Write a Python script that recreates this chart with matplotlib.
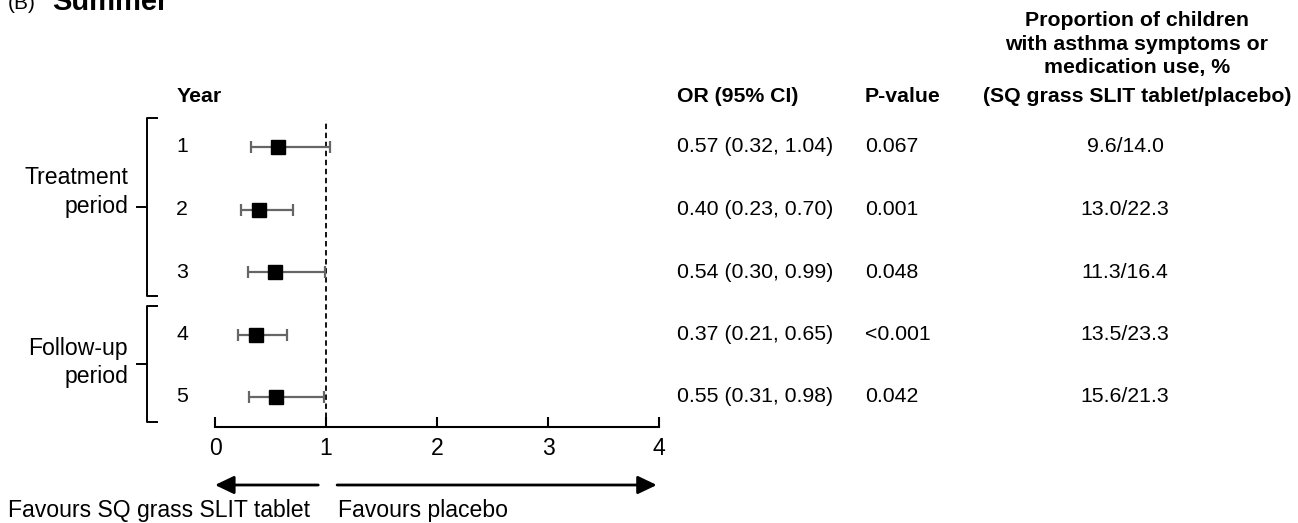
import matplotlib
matplotlib.use("Agg")
import matplotlib.pyplot as plt
import matplotlib.transforms as mtransforms
from matplotlib.lines import Line2D

plt.rcParams['font.family'] = ['Liberation Sans', 'DejaVu Sans']

# ---- data ----
years = [1, 2, 3, 4, 5]
year_labels = ["1", "2", "3", "4", "5"]
odds_ratio = [0.57, 0.40, 0.54, 0.37, 0.55]
ci_low = [0.32, 0.23, 0.30, 0.21, 0.31]
ci_high = [1.04, 0.70, 0.99, 0.65, 0.98]
or_text = ["0.57 (0.32, 1.04)", "0.40 (0.23, 0.70)", "0.54 (0.30, 0.99)",
           "0.37 (0.21, 0.65)", "0.55 (0.31, 0.98)"]
p_values = ["0.067", "0.001", "0.048", "<0.001", "0.042"]
proportions = ["9.6/14.0", "13.0/22.3", "11.3/16.4", "13.5/23.3", "15.6/21.3"]
x_ticks = [0, 1, 2, 3, 4]
prop_header = ["Proportion of children", "with asthma symptoms or",
               "medication use, %", "(SQ grass SLIT tablet/placebo)"]

W, H = 1298, 523
FS = 15.3
FS_BIG = 16.6
fig = plt.figure(figsize=(W / 100, H / 100), dpi=100)

def fx(px):
    return px / W

def fy(py):
    return 1 - py / H

ax = fig.add_axes([fx(215), fy(427), (659 - 215) / W, (427 - 120) / H])
ax.set_xlim(0, 4)
ax.set_ylim(5.48, 0.568)
for s in ['top', 'left', 'right']:
    ax.spines[s].set_visible(False)
ax.spines['bottom'].set_linewidth(1.5)
ax.set_yticks([])
ax.set_xticks(x_ticks)
ax.set_xticklabels([str(t) for t in x_ticks], fontsize=FS_BIG)
ax.tick_params(axis='x', direction='in', length=7, width=1.5, pad=7)

# reference line
ax.axvline(1, color='black', lw=1.3, ls=(0, (3, 2)))

# error bars and squares
ax.errorbar(odds_ratio, years,
            xerr=[[o - l for o, l in zip(odds_ratio, ci_low)],
                  [h - o for o, h in zip(odds_ratio, ci_high)]],
            fmt='none', ecolor='#666666', elinewidth=1.6, capsize=4.3, capthick=1.6,
            zorder=2)
ax.plot(odds_ratio, years, 's', color='black', markersize=9.6, zorder=3)

# text columns (figure x, data y)
blend = mtransforms.blended_transform_factory(fig.transFigure, ax.transData)
for y, lab, ot, pv, pr in zip(years, year_labels, or_text, p_values, proportions):
    ax.text(fx(182), y, lab, transform=blend, ha='center', va='center', fontsize=FS, clip_on=False)
    ax.text(fx(677), y, ot, transform=blend, ha='left', va='center', fontsize=FS, clip_on=False)
    ax.text(fx(865), y, pv, transform=blend, ha='left', va='center', fontsize=FS, clip_on=False)
    ax.text(fx(1125), y, pr, transform=blend, ha='center', va='center', fontsize=FS, clip_on=False)

# headers
fig.text(fx(177), fy(97), "Year", ha='left', va='center', fontsize=FS, fontweight='bold')
fig.text(fx(677), fy(97), "OR (95% CI)", ha='left', va='center', fontsize=FS, fontweight='bold')
fig.text(fx(865), fy(97), "P-value", ha='left', va='center', fontsize=FS, fontweight='bold')
for ypx, line in zip([20, 44, 68, 97], prop_header):
    fig.text(fx(1137), fy(ypx), line, ha='center', va='center', fontsize=FS, fontweight='bold')

# title (partly cut at top)
fig.text(fx(8), fy(9), "(B)", ha='left', va='baseline', fontsize=15)
fig.text(fx(52), fy(10), "Summer", ha='left', va='baseline', fontsize=21, fontweight='bold')

# brackets
def bracket(top, bottom, mid):
    xs = [fx(157), fx(147), fx(147), fx(157)]
    ys = [fy(top), fy(top), fy(bottom), fy(bottom)]
    fig.add_artist(Line2D(xs, ys, color='black', lw=1.4, transform=fig.transFigure))
    fig.add_artist(Line2D([fx(137), fx(147)], [fy(mid), fy(mid)], color='black', lw=1.4,
                          transform=fig.transFigure))

bracket(118, 296, 207)
bracket(306, 422, 364)

fig.text(fx(128), fy(178), "Treatment", ha='right', va='center', fontsize=FS_BIG)
fig.text(fx(128), fy(207), "period", ha='right', va='center', fontsize=FS_BIG)
fig.text(fx(128), fy(348), "Follow-up", ha='right', va='center', fontsize=FS_BIG)
fig.text(fx(128), fy(376), "period", ha='right', va='center', fontsize=FS_BIG)

# direction arrows
arr_tr = mtransforms.blended_transform_factory(ax.transData, fig.transFigure)
style = '-|>,head_length=1.15,head_width=0.55'
ax.annotate("", xy=(0.0, fy(485)), xytext=(0.93, fy(485)), xycoords=arr_tr, textcoords=arr_tr,
            arrowprops=dict(arrowstyle=style, mutation_scale=10, lw=2, color='black',
                            shrinkA=0, shrinkB=0), annotation_clip=False)
ax.annotate("", xy=(3.98, fy(485)), xytext=(1.10, fy(485)), xycoords=arr_tr, textcoords=arr_tr,
            arrowprops=dict(arrowstyle=style, mutation_scale=10, lw=2, color='black',
                            shrinkA=0, shrinkB=0), annotation_clip=False)

fig.text(fx(8), fy(510), "Favours SQ grass SLIT tablet", ha='left', va='center', fontsize=FS_BIG)
fig.text(fx(338), fy(510), "Favours placebo", ha='left', va='center', fontsize=FS_BIG)

fig.savefig("out.png", dpi=100)
